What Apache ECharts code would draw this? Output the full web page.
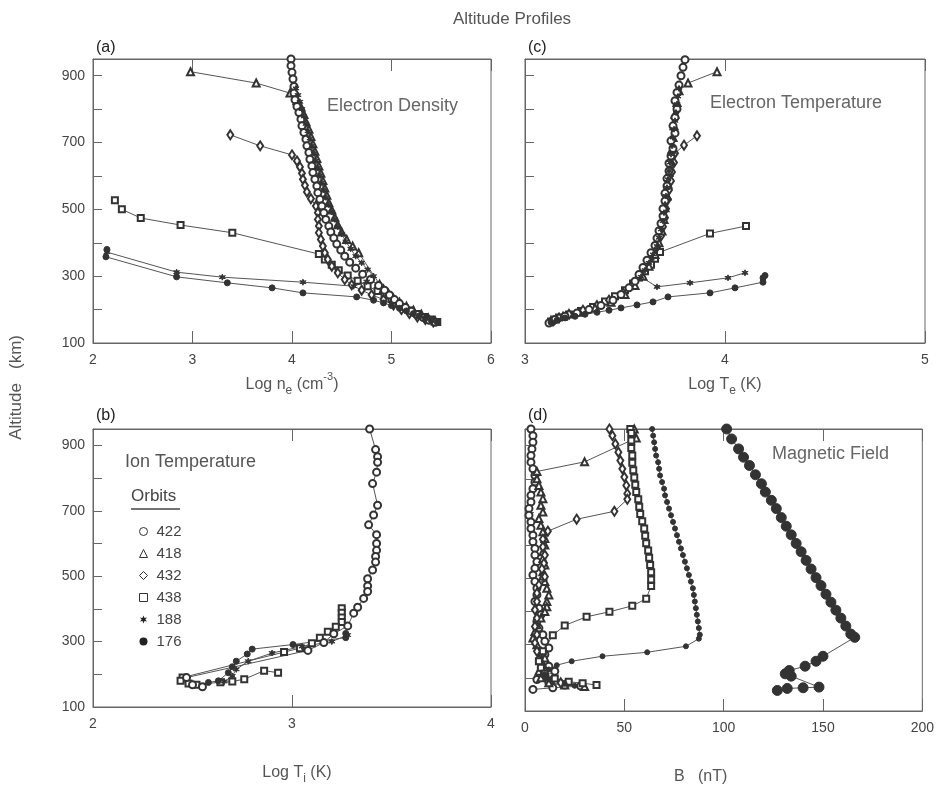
<!DOCTYPE html>
<html>
<head>
<meta charset="utf-8">
<script src="https://cdn.jsdelivr.net/npm/echarts@6/dist/echarts.min.js"></script>
<style>
  html, body { margin: 0; padding: 0; background: #fff; }
  #chart { width: 937px; height: 786px; }
</style>
</head>
<body>
<div id="chart"></div>
<script>
// orbits shown in every panel
var orbits = ['422', '418', '432', '438', '188', '176'];

// (a) electron density: [log ne, altitude km]
var ne422 = [[3.99,950],[3.99,930],[4.00,910],[4.01,890],[4.02,868],[4.02,848],[4.03,828],[4.05,808],[4.07,790],[4.09,770],[4.10,750],[4.12,730],[4.14,710],[4.15,690],[4.17,670],[4.18,650],[4.20,630],[4.21,610],[4.23,590],[4.25,570],[4.26,550],[4.28,530],[4.30,510],[4.32,490],[4.34,470],[4.37,450],[4.39,432],[4.42,414],[4.45,396],[4.49,378],[4.53,360],[4.58,342],[4.64,324],[4.71,306],[4.79,290],[4.87,272],[4.93,258],[4.98,244],[5.03,230],[5.08,218],[5.14,206],[5.20,195],[5.26,185],[5.32,176],[5.38,168],[5.44,162]];
var ne418 = [[2.98,912],[3.64,878],[3.98,848],[4.05,826],[4.09,806],[4.12,784],[4.14,762],[4.17,740],[4.19,718],[4.21,696],[4.23,674],[4.25,652],[4.27,630],[4.29,608],[4.31,586],[4.33,564],[4.35,542],[4.37,520],[4.40,498],[4.43,476],[4.46,454],[4.50,432],[4.55,410],[4.61,390],[4.67,370],[4.88,276],[4.92,262],[4.97,248],[5.02,234],[5.08,222],[5.15,210],[5.22,198],[5.30,186],[5.37,175],[5.44,166]];
var ne432 = [[3.38,723],[3.68,690],[4.00,663],[4.05,645],[4.08,627],[4.10,608],[4.11,590],[4.13,572],[4.15,552],[4.19,532],[4.24,510],[4.26,490],[4.26,470],[4.27,450],[4.27,430],[4.29,410],[4.31,390],[4.33,370],[4.36,350],[4.40,330],[4.46,310],[4.53,290],[4.60,274],[4.70,258],[4.80,244],[4.92,230],[5.02,214],[5.10,200],[5.18,188],[5.26,178],[5.34,170],[5.42,163]];
var ne438 = [[2.22,527],[2.29,500],[2.48,474],[2.88,453],[3.40,430],[4.27,366],[4.33,350],[4.40,334],[4.47,318],[4.56,302],[4.66,286],[4.76,270],[4.86,256],[4.93,244],[5.00,232],[5.06,220],[5.12,208],[5.19,197],[5.26,187],[5.33,178],[5.40,170],[5.46,163]];
var ne188 = [[4.04,862],[4.06,842],[4.08,822],[4.10,800],[4.12,778],[4.14,756],[4.16,734],[4.18,712],[4.20,690],[4.22,668],[4.24,646],[4.26,624],[4.28,602],[4.30,580],[4.32,558],[4.34,536],[4.37,514],[4.40,492],[4.43,470],[4.46,448],[4.50,426],[4.54,404],[4.59,382],[4.64,360],[4.70,340],[4.76,320],[4.82,300],[4.75,284],[4.62,270],[4.11,282],[3.30,297],[2.84,312],[2.14,372]];
var ne176 = [[2.14,380],[2.13,358],[2.84,298],[3.35,280],[3.80,265],[4.11,250],[4.65,238],[4.82,228],[4.92,220],[5.00,212],[5.08,204],[5.15,196],[5.22,188],[5.28,181],[5.34,174],[5.40,168],[5.46,162]];

// (c) electron temperature: [log Te, altitude km]
var te422 = [[3.80,948],[3.79,925],[3.78,900],[3.77,872],[3.76,850],[3.75,825],[3.76,800],[3.75,775],[3.74,750],[3.75,728],[3.73,705],[3.74,682],[3.73,660],[3.72,638],[3.72,615],[3.71,592],[3.71,570],[3.70,548],[3.70,525],[3.69,502],[3.69,480],[3.68,458],[3.67,436],[3.66,414],[3.65,392],[3.63,370],[3.61,348],[3.59,326],[3.57,305],[3.55,285],[3.52,265],[3.48,245],[3.44,228],[3.38,212],[3.32,200],[3.26,190],[3.20,180],[3.15,170],[3.12,160]];
var te418 = [[3.96,912],[3.815,878],[3.77,855],[3.76,820],[3.75,785],[3.745,750],[3.74,715],[3.735,680],[3.73,645],[3.72,610],[3.715,575],[3.71,540],[3.70,505],[3.695,470],[3.685,435],[3.67,400],[3.65,365],[3.62,330],[3.59,300],[3.55,272],[3.50,245],[3.43,222],[3.35,205],[3.27,192],[3.19,180],[3.13,168]];
var te432 = [[3.86,720],[3.795,692],[3.75,668],[3.745,640],[3.735,612],[3.73,585],[3.72,558],[3.715,530],[3.705,502],[3.70,475],[3.69,448],[3.68,420],[3.665,392],[3.64,362],[3.61,332],[3.58,302],[3.54,275],[3.49,250],[3.42,228],[3.36,212],[3.29,198],[3.22,186],[3.17,175],[3.14,166]];
var te438 = [[4.105,450],[3.925,428],[3.675,372],[3.65,352],[3.63,334],[3.60,315],[3.57,296],[3.54,278],[3.50,258],[3.45,240],[3.40,224],[3.34,208],[3.28,196],[3.22,185],[3.17,176],[3.13,164]];
var te188 = [[3.77,862],[3.765,838],[3.76,815],[3.755,790],[3.75,765],[3.745,740],[3.74,715],[3.735,690],[3.73,665],[3.725,640],[3.72,615],[3.715,590],[3.71,565],[3.705,540],[3.70,515],[3.695,490],[3.69,465],[3.68,440],[3.67,415],[3.66,390],[3.64,365],[3.62,340],[3.60,318],[3.58,298],[3.66,268],[3.825,280],[4.015,295],[4.10,310]];
var te176 = [[4.20,302],[4.19,295],[4.19,282],[4.05,265],[3.925,250],[3.715,238],[3.64,223],[3.56,214],[3.48,205],[3.42,198],[3.36,192],[3.30,186],[3.25,180],[3.20,175],[3.16,168],[3.13,162]];

// (b) ion temperature: [log Ti, altitude km]
var ti422 = [[3.39,950],[3.42,887],[3.43,865],[3.43,848],[3.425,818],[3.405,783],[3.43,717],[3.41,687],[3.385,657],[3.425,627],[3.425,600],[3.425,579],[3.42,560],[3.42,543],[3.405,519],[3.38,492],[3.38,470],[3.38,453],[3.36,432],[3.33,405],[3.31,387],[3.28,348],[3.21,324],[3.16,297],[3.08,273],[2.47,190],[2.50,168],[2.55,162]];
var ti438 = [[3.25,402],[3.25,388],[3.25,374],[3.25,360],[3.22,345],[3.18,330],[3.14,312],[3.10,295],[3.04,280],[2.96,268],[2.45,190],[2.44,180],[2.48,172],[2.52,168],[2.64,176],[2.70,178],[2.76,185],[2.86,211],[2.93,205]];
var ti188 = [[3.28,320],[3.20,300],[3.05,285],[2.90,265],[2.78,240],[2.72,215],[2.70,195],[2.66,178]];
var ti176 = [[3.27,325],[3.27,312],[3.005,291],[2.80,277],[2.775,262],[2.72,240],[2.70,223],[2.68,205],[2.63,180],[2.58,175]];

// (d) magnetic field: [B nT, altitude km]
var bd422 = [[3,950],[4,930],[4,910],[3.5,890],[3,870],[3,850],[4,830],[5,810],[5,790],[4,770],[3,750],[3,730],[2,710],[2,690],[3,670],[3,650],[4,630],[4,610],[5,590],[5,570],[6,550],[5,530],[4,510],[5,490],[6,470],[6,450],[5,430],[7,410],[8,390],[6,370],[7,350],[9,330],[10,310],[12,290],[10,270],[8,250],[12,235],[15,220],[10,205],[6,195],[12,185],[20,178],[28,175],[14,170],[4,165]];
var bd418 = [[55,950],[56,923],[30,851],[6,822],[6,800],[7,780],[8,760],[9,740],[8,720],[9,700],[7,680],[8,660],[9,640],[10,620],[10,600],[9,580],[9,560],[10,540],[9,520],[9,507],[10,490],[11,470],[12,450],[11,430],[11,414],[10,400],[8,380],[6,360],[5,340],[4,320],[6,300],[8,280],[10,260],[9,240],[7,220],[8,200],[12,185],[20,178],[30,174]];
var bd432 = [[42.5,950],[44,930],[45.5,905],[47,880],[48,855],[49,830],[50,805],[51,780],[51.5,755],[51.5,738],[45,702],[26,678],[11.5,642],[9,618],[9,595],[10,570],[9.5,545],[8.5,528],[10,505],[7,480],[6,455],[6,430],[5,405],[6,380],[5,355],[6,330],[5,305],[6,280],[7,255],[8,230],[10,210],[14,195],[18,185]];
var bd438 = [[53,950],[53.5,938],[53.5,915],[53.5,893],[54,870],[54,848],[54.5,826],[55,804],[55.5,782],[56,760],[57,738],[57.5,716],[58,694],[59,672],[60,650],[60.5,628],[61,606],[62,584],[62.5,562],[63,540],[63.5,518],[63.5,496],[63.5,477],[61,438],[54,417],[42.5,399],[31,384],[20,358],[14,328],[9,280],[7,250],[8,230],[10,212],[15,198],[22,188],[29,184],[36,178]];
var bd188 = [[64,950],[64.5,930],[65,910],[65.5,890],[66,870],[67,850],[67.5,830],[68,810],[69,790],[70,770],[70.5,750],[71.5,730],[72.5,710],[73.5,690],[74.5,670],[75.5,650],[76.5,630],[77.5,610],[78.5,590],[79.5,570],[80.5,550],[81.5,530],[82.5,510],[83.5,490],[84.5,470],[85,450],[85.5,430],[86,410],[86.5,390],[87,370],[87.5,350],[88,330],[87.5,318],[81,295],[61.5,277],[39,265],[23.5,250],[16,238],[12,225],[10,210],[12,195],[20,182],[25,176]];
var bd176 = [[101.5,950],[104,920],[107.5,890],[110,865],[113,840],[116,812],[119,785],[121,760],[124,735],[126.5,710],[129,683],[131.5,657],[134,631],[136.5,605],[139,580],[141.5,554],[144,528],[146.5,502],[149,478],[151.5,452],[154,428],[156.5,404],[159,380],[161.5,356],[164,332],[166,322],[150,265],[146.5,250],[141,235],[133,222],[131,212],[134,205],[148,172],[140,170],[132,168],[127,162]];

var STAR = 'path://M0,-10L2.5,-3.5L9,-5L4.5,0L9,5L2.5,3.5L0,10L-2.5,3.5L-9,5L-4.5,0L-9,-5L-2.5,-3.5Z';
var symbols = {
  '422': ['emptyCircle', 7],
  '418': ['emptyTriangle', 7],
  '432': ['emptyDiamond', [6, 9]],
  '438': ['emptyRect', 6],
  '188': [STAR, 6],
  '176': ['circle', 6]
};

var chart = echarts.init(document.getElementById('chart'), null, { renderer: 'canvas' });

var FONT = 'Liberation Sans, Arial, sans-serif';
var grids = [
  { left: 93, top: 59, width: 398, height: 284 },   // a
  { left: 525, top: 59, width: 400, height: 284 },  // c
  { left: 93, top: 429, width: 398, height: 284 },  // b
  { left: 525, top: 429, width: 400, height: 284 }  // d
];

var rich = {
  n: { fontSize: 16, color: '#555', fontFamily: FONT },
  s: { fontSize: 12, color: '#555', fontFamily: FONT, verticalAlign: 'bottom', padding: [0, 0, -4, 0] },
  p: { fontSize: 11, color: '#555', fontFamily: FONT, verticalAlign: 'top', padding: [-6, 0, 0, 0] }
};

function xAx(gi, min, max, step, name, gap, pad) {
  return [{
    gridIndex: gi, type: 'value', min: min, max: max, interval: step,
    name: name, nameLocation: 'middle', nameGap: gap,
    nameTextStyle: { rich: rich, padding: pad || 0 },
    axisLine: { lineStyle: { color: '#666' } },
    axisTick: { inside: true, length: 12, lineStyle: { color: '#666' } },
    axisLabel: { color: '#444', fontSize: 14, fontFamily: FONT, margin: 10 },
    splitLine: { show: false }
  }, {
    gridIndex: gi, type: 'value', position: 'top', min: min, max: max, interval: step,
    axisLine: { lineStyle: { color: '#666' } },
    axisTick: { inside: true, length: 12, lineStyle: { color: '#666' } },
    axisLabel: { show: false },
    splitLine: { show: false }
  }];
}

function yAx(gi, labels) {
  return {
    gridIndex: gi, type: 'value', min: 100, max: 950, interval: 100,
    axisLine: { lineStyle: { color: '#666' } },
    axisTick: { inside: true, length: 9, lineStyle: { color: '#666' } },
    axisLabel: {
      show: labels, color: '#444', fontSize: 14, fontFamily: FONT, margin: 8,
      formatter: function (v) { return (v % 200 === 100) ? String(v) : ''; }
    },
    splitLine: { show: false }
  };
}

var xAxes = [].concat(
  xAx(0, 2, 6, 1, '{n|Log n}{s|e}{n| (cm}{p|-3}{n|)}', 34),
  xAx(1, 3, 5, 1, '{n|Log T}{s|e}{n| (K)}', 34),
  xAx(2, 2, 4, 1, '{n|Log T}{s|i}{n| (K)}', 58, [0, 0, 0, 10]),
  xAx(3, 0, 200, 50, '{n|B   (nT)}', 58, [0, 46, 0, 0])
);
var yAxes = [yAx(0, true), yAx(1, false), yAx(2, true), yAx(3, false)];

function mk(name, data, gi, opts) {
  var s = symbols[name];
  var o = {
    name: name, type: 'line', data: data,
    xAxisIndex: gi * 2, yAxisIndex: gi,
    symbol: s[0], symbolSize: s[1], showAllSymbol: true,
    lineStyle: { color: '#555', width: 1 },
    itemStyle: { color: '#333', borderColor: '#333', borderWidth: 1 },
    emphasis: { disabled: true },
    animation: false, clip: true
  };
  if (opts) for (var k in opts) o[k] = opts[k];
  return o;
}

var series = [
  mk('438', ne438, 0), mk('432', ne432, 0), mk('418', ne418, 0), mk('422', ne422, 0), mk('188', ne188, 0), mk('176', ne176, 0),
  mk('438', te438, 1), mk('432', te432, 1), mk('418', te418, 1), mk('422', te422, 1), mk('188', te188, 1), mk('176', te176, 1),
  mk('438', ti438, 2), mk('422', ti422, 2), mk('188', ti188, 2), mk('176', ti176, 2),
  mk('422', bd422, 3), mk('418', bd418, 3), mk('432', bd432, 3), mk('438', bd438, 3),
  mk('188', bd188, 3, { symbol: 'circle', symbolSize: 5 }),
  mk('176', bd176, 3, { symbolSize: 10 })
];

var hollow = { color: '#fff', borderColor: '#333', borderWidth: 1 };
var legendIcons = {
  '422': 'circle', '418': 'triangle', '432': 'diamond', '438': 'rect', '188': STAR, '176': 'circle'
};

chart.setOption({
  backgroundColor: '#fff',
  animation: false,
  textStyle: { fontFamily: FONT },
  title: [
    { text: 'Altitude Profiles', left: 448, top: 6, textStyle: { color: '#555', fontSize: 17, fontWeight: 'normal', fontFamily: FONT } },
    { text: '(a)', left: 91, top: 35, textStyle: { color: '#222', fontSize: 16, fontWeight: 'normal', fontFamily: FONT } },
    { text: '(c)', left: 523, top: 35, textStyle: { color: '#222', fontSize: 16, fontWeight: 'normal', fontFamily: FONT } },
    { text: '(b)', left: 91, top: 403, textStyle: { color: '#222', fontSize: 16, fontWeight: 'normal', fontFamily: FONT } },
    { text: '(d)', left: 523, top: 403, textStyle: { color: '#222', fontSize: 16, fontWeight: 'normal', fontFamily: FONT } },
    { text: 'Electron Density', left: 322, top: 92, textStyle: { color: '#666', fontSize: 18, fontWeight: 'normal', fontFamily: FONT } },
    { text: 'Electron Temperature', left: 705, top: 89, textStyle: { color: '#666', fontSize: 18, fontWeight: 'normal', fontFamily: FONT } },
    { text: 'Ion Temperature', left: 120, top: 448, textStyle: { color: '#555', fontSize: 18, fontWeight: 'normal', fontFamily: FONT } },
    { text: 'Magnetic Field', left: 767, top: 440, textStyle: { color: '#666', fontSize: 18, fontWeight: 'normal', fontFamily: FONT } }
  ],
  legend: {
    orient: 'vertical', left: 134, top: 519,
    itemWidth: 8, itemHeight: 8, itemGap: 7,
    selectedMode: false,
    textStyle: { color: '#444', fontSize: 15, fontFamily: FONT, padding: [0, 0, 0, 4] },
    data: orbits.map(function (o) {
      var filled = (o === '188' || o === '176');
      return { name: o, icon: legendIcons[o], itemStyle: filled ? { color: '#222', borderWidth: 0 } : hollow };
    })
  },
  graphic: [
    { type: 'text', left: 8, top: 335, rotation: Math.PI / 2,
      style: { text: 'Altitude   (km)', fill: '#555', font: '17px ' + FONT } },
    { type: 'text', left: 131, top: 488, style: { text: 'Orbits', fill: '#444', font: '17px ' + FONT } },
    { type: 'line', shape: { x1: 131, y1: 509, x2: 180, y2: 509 }, style: { stroke: '#444', lineWidth: 1.5 } }
  ],
  grid: grids.map(function (g) {
    return { left: g.left, top: g.top, width: g.width, height: g.height, show: true, borderColor: '#666', borderWidth: 1, backgroundColor: 'transparent' };
  }),
  xAxis: xAxes,
  yAxis: yAxes,
  series: series
});
</script>
</body>
</html>
